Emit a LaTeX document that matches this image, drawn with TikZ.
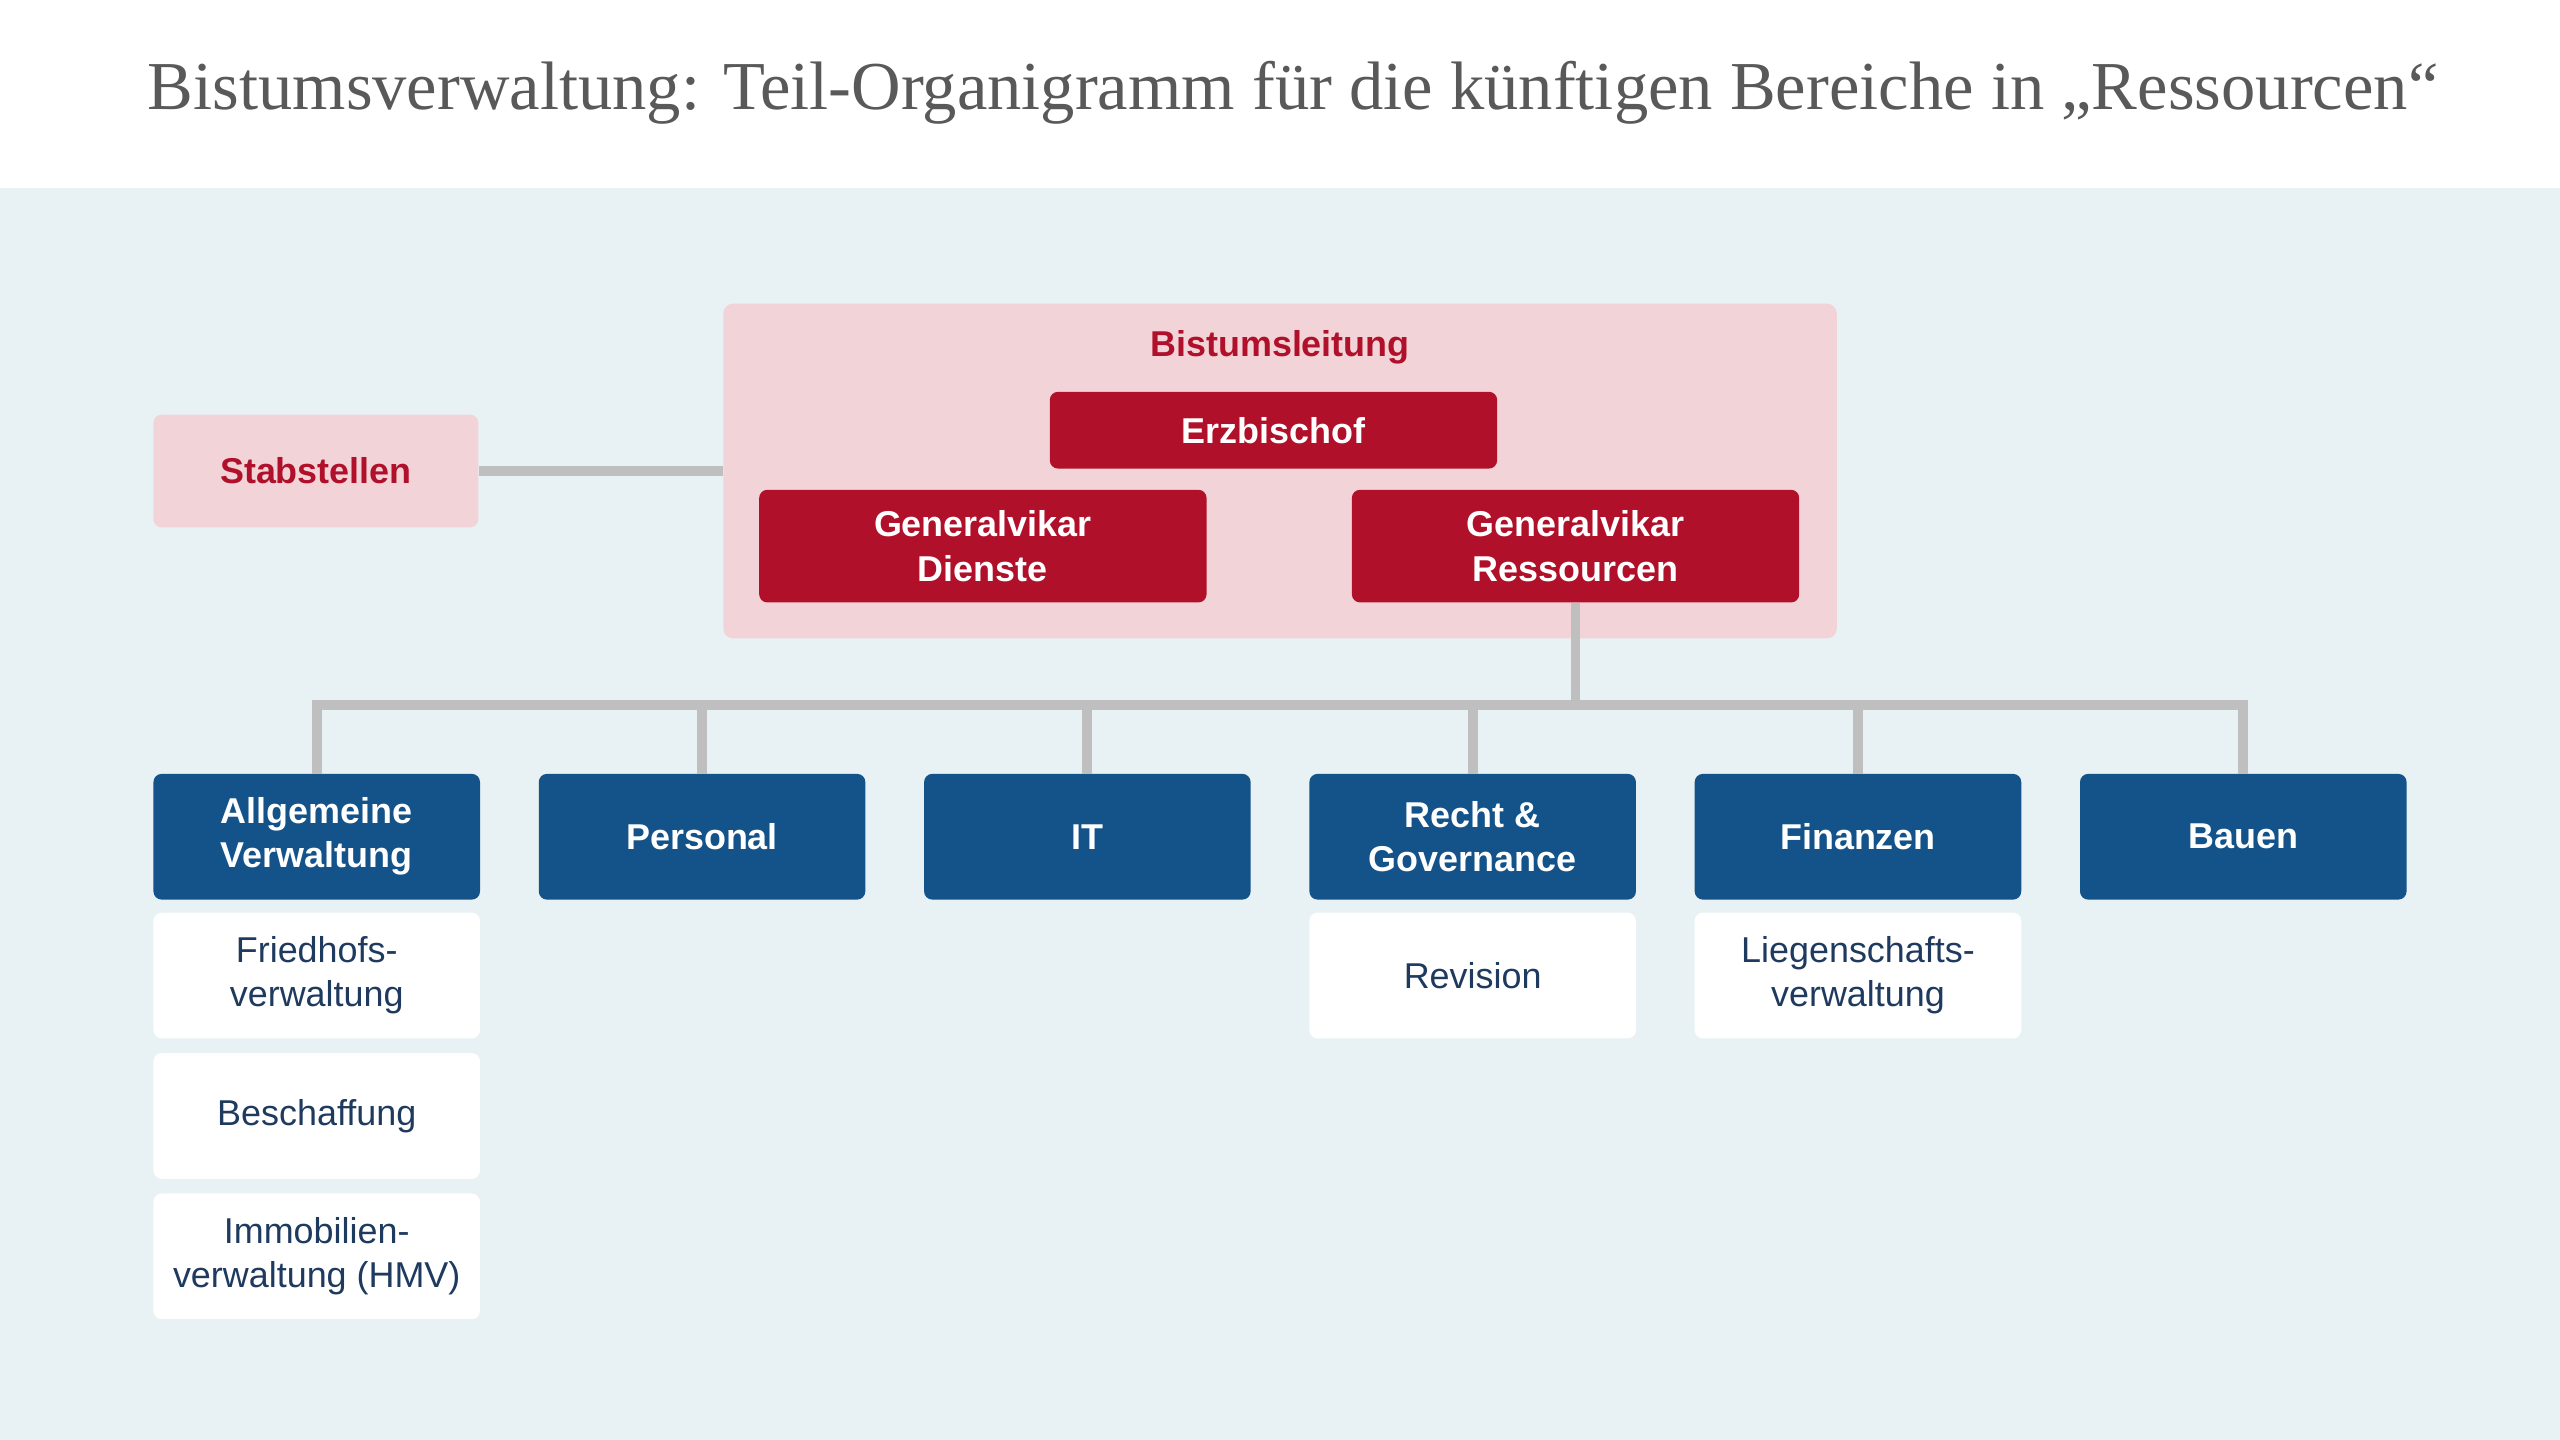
\documentclass[tikz,border=0pt]{standalone}
\usepackage{fontspec}
\setmainfont{Liberation Sans}
\newfontfamily\titlefont{Liberation Serif}
\definecolor{bgblue}{HTML}{E8F1F3}
\definecolor{pinkbox}{HTML}{F2D4D8}
\definecolor{redbox}{HTML}{B0102A}
\definecolor{bluebox}{HTML}{13538A}
\definecolor{linegray}{HTML}{BFBFBF}
\definecolor{titlegray}{HTML}{595959}
\definecolor{darktext}{HTML}{1F3A5F}
\begin{document}
\begin{tikzpicture}[x=1pt,y=-1pt,
 redn/.style={fill=redbox,text=white,font=\bfseries\fontsize{22}{27}\selectfont,rounded corners=5pt,minimum width=274pt,align=center,inner sep=0pt},
 bluen/.style={fill=bluebox,text=white,font=\bfseries\fontsize{22}{27}\selectfont,rounded corners=5pt,minimum width=200pt,minimum height=77pt,align=center,inner sep=0pt},
 whiten/.style={fill=white,text=darktext,font=\fontsize{22}{27}\selectfont,rounded corners=5pt,minimum width=200pt,minimum height=77pt,align=center,inner sep=0pt},
 conn/.style={draw=linegray,line width=6pt}]
\useasboundingbox (0,0) rectangle (1568,882);
\fill[bgblue] (0,115) rectangle (1568,882);
\node[font=\titlefont\fontsize{42}{50}\selectfont,text=titlegray] (title) at (792,57) {Bistumsverwaltung: Teil-Organigramm für die künftigen Bereiche in „Ressourcen“};
\node[fill=pinkbox,rounded corners=6pt,minimum width=682pt,minimum height=205pt,inner sep=0pt] (bl) at (784,288.5) {};
\node[text=redbox,font=\bfseries\fontsize{22}{27}\selectfont] (bllabel) at (784,213) {Bistumsleitung};
\node[redn,minimum height=47pt] (erz) at (780,263.5) {Erzbischof};
\node[redn,minimum height=69pt] (gvd) at (602,334.5) {Generalvikar\\Dienste};
\node[redn,minimum height=69pt] (gvr) at (965,334.5) {Generalvikar\\Ressourcen};
\node[fill=pinkbox,text=redbox,font=\bfseries\fontsize{22}{27}\selectfont,rounded corners=5pt,minimum width=199pt,minimum height=69pt,inner sep=0pt] (stab) at (193.5,288.5) {Stabstellen};
\draw[conn] (stab.east) -- (bl.west);
\node[bluen] (b1) at (194,512.5) {Allgemeine\\Verwaltung};
\node[bluen] (b2) at (430,512.5) {Personal};
\node[bluen] (b3) at (666,512.5) {IT};
\node[bluen] (b4) at (902,512.5) {Recht \&\\Governance};
\node[bluen] (b5) at (1138,512.5) {Finanzen};
\node[bluen] (b6) at (1374,512.5) {Bauen};
\coordinate (hub) at (965,432);
\draw[conn] (gvr.south) -- (hub);
\draw[conn] (b1.north) -- (194,432) -- (1374,432) -- (b6.north);
\foreach \b in {b2,b3,b4,b5} \draw[conn] (\b.north) -- (\b.north |- hub);
\node[whiten] (w1) at (194,597.5) {Friedhofs-\\verwaltung};
\node[whiten] (w2) at (194,683.5) {Beschaffung};
\node[whiten] (w3) at (194,769.5) {Immobilien-\\verwaltung (HMV)};
\node[whiten] (w4) at (902,597.5) {Revision};
\node[whiten] (w5) at (1138,597.5) {Liegenschafts-\\verwaltung};
\end{tikzpicture}
\end{document}
